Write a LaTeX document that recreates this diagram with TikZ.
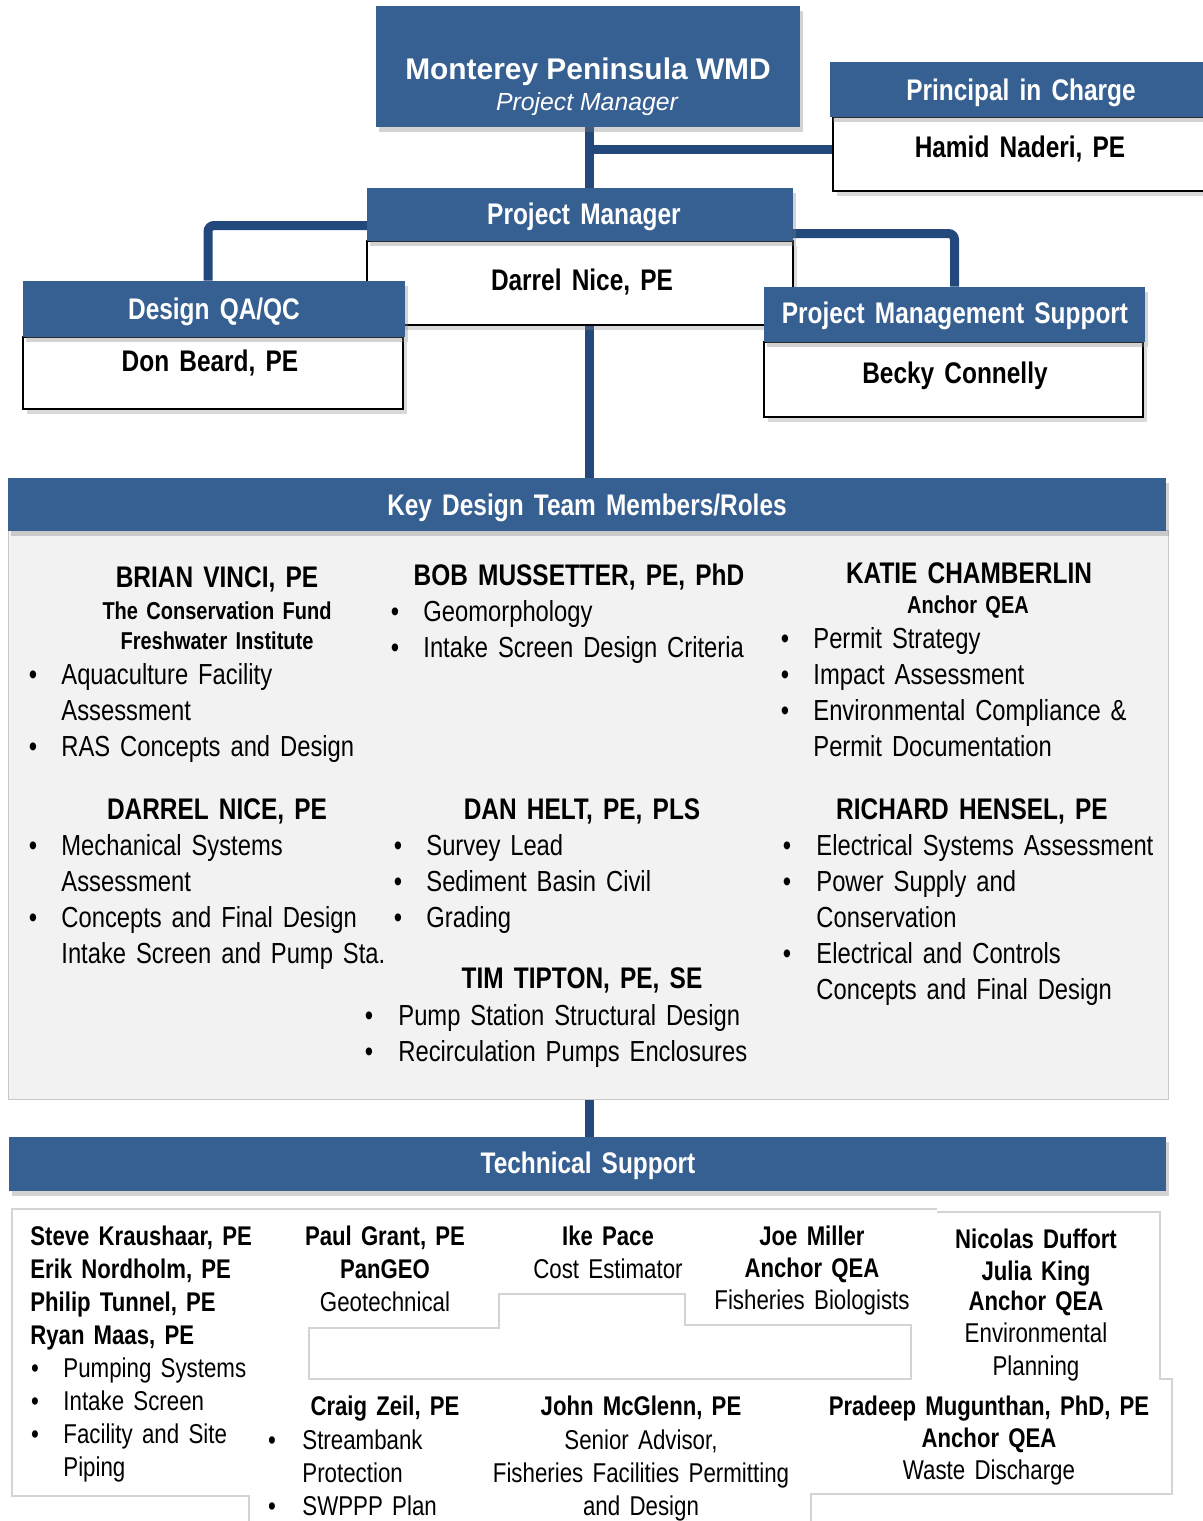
\documentclass[tikz,border=0pt]{standalone}
\usepackage{fontspec}
\setmainfont{Liberation Sans}
\newfontfamily\nb{Liberation Sans}[FakeStretch=0.82,WordSpace=0.8]
\newfontfamily\nr{Liberation Sans}[FakeStretch=0.82,WordSpace=1.5]
\usetikzlibrary{shadows,calc,fit}
\definecolor{hdrblue}{RGB}{55,96,146}
\definecolor{connblue}{RGB}{35,72,124}
\definecolor{panelfill}{RGB}{242,242,242}
\definecolor{panelline}{RGB}{200,200,200}
\definecolor{boxline}{RGB}{212,212,212}
\tikzset{
  hbox/.style={rectangle, fill=hdrblue, draw=none, inner sep=0pt,
    drop shadow={shadow xshift=1.5pt, shadow yshift=-2.5pt, opacity=0.35}},
  wbox/.style={rectangle, fill=white, draw=black, line width=1.2pt, inner sep=0pt,
    drop shadow={shadow xshift=2pt, shadow yshift=-2.5pt, opacity=0.3}},
  connline/.style={draw=connblue, line width=4.5pt},
  outl/.style={draw=boxline, line width=0.6pt},
  txt/.style={inner sep=0pt, anchor=base},
  ltxt/.style={inner sep=0pt, anchor=base west},
  hd/.style={txt, font=\nb\bfseries\fontsize{14.9}{18}\selectfont},
  nm/.style={txt, font=\nb\bfseries\fontsize{14.9}{18}\selectfont},
  org/.style={txt, font=\nb\bfseries\fontsize{12.2}{15}\selectfont},
  itm/.style={ltxt, font=\nr\fontsize{14.5}{17}\selectfont},
  bul/.style={txt, font=\nr\fontsize{14.5}{17}\selectfont},
  bn/.style={txt, font=\nb\bfseries\fontsize{13.5}{16}\selectfont},
  bnl/.style={ltxt, font=\nb\bfseries\fontsize{13.5}{16}\selectfont},
  br/.style={txt, font=\nr\fontsize{13.6}{16}\selectfont},
  bri/.style={ltxt, font=\nr\fontsize{13.6}{16}\selectfont},
  bbul/.style={txt, font=\nr\fontsize{13.6}{16}\selectfont},
}
\begin{document}
\begin{tikzpicture}[x=0.5pt,y=-0.5pt]
\useasboundingbox (0,0) rectangle (1203,1521);
\clip (0,0) rectangle (1203,1521);

% ---------- box frames (named, for connectors) ----------
\path (376,6) coordinate (mpA) (800,127) coordinate (mpB);
\path (367,188) coordinate (pmhA) (793,241) coordinate (pmhB);
\path (367,241) coordinate (pmbA) (793,325) coordinate (pmbB);
\path (830,62) coordinate (pchA) (1215,117) coordinate (pchB);
\path (833,117) coordinate (pcbA) (1215,191) coordinate (pcbB);
\path (23,281) coordinate (qahA) (405,337) coordinate (qahB);
\path (23,337) coordinate (qabA) (403,409) coordinate (qabB);
\path (764,287) coordinate (pmshA) (1145,342) coordinate (pmshB);
\path (764,342) coordinate (pmsbA) (1143,417) coordinate (pmsbB);

% invisible placeholders so connectors can be drawn first
\node[inner sep=0pt, fit=(mpA)(mpB)] (mp) {};
\node[inner sep=0pt, fit=(pmhA)(pmhB)] (pmh) {};
\node[inner sep=0pt, fit=(pmbA)(pmbB)] (pmb) {};
\node[inner sep=0pt, fit=(pcbA)(pcbB)] (pcb) {};
\node[inner sep=0pt, fit=(qahA)(qahB)] (qah) {};
\node[inner sep=0pt, fit=(pmshA)(pmshB)] (pmsh) {};
\path (8,478) coordinate (kdhA) (1166,531) coordinate (kdhB);
\path (8,530) coordinate (kdpA) (1168,1099) coordinate (kdpB);
\path (9,1137) coordinate (tshA) (1166,1191) coordinate (tshB);
\node[inner sep=0pt, fit=(kdhA)(kdhB)] (kdh) {};
\node[inner sep=0pt, fit=(kdpA)(kdpB)] (kdp) {};
\node[inner sep=0pt, fit=(tshA)(tshB)] (tsh) {};

% ---------- connectors ----------
\coordinate (cx) at ($(mp.south)+(1,0)$);
\coordinate (j1) at ($(cx)+(0,22)$);
\draw[connline] (cx) -- (cx |- pmh.north);
\draw[connline] (j1) -- ($(j1 -| pcb.west)+(3,0)$);
\draw[connline, rounded corners=3pt] ($(pmh.west)+(3,11)$) -| ($(qah.north)+(-6,0)$);
\draw[connline, rounded corners=3pt] ($(pmh.east)+(-3,19)$) -| (pmsh.north);
\draw[connline] (cx |- pmb.south) -- (cx |- kdh.north);
\draw[connline] (cx |- kdp.south) -- (cx |- tsh.north);

% ---------- boxes ----------
\node[hbox, fit=(mpA)(mpB)] (mpbox) {};
\node[wbox, line width=1.4pt, fit=(pcbA)(pcbB)] (pcbbox) {};
\node[hbox, fit=(pchA)(pchB)] (pchbox) {};
\node[wbox, line width=0.8pt, fit=(pmbA)(pmbB)] (pmbbox) {};
\node[hbox, fit=(pmhA)(pmhB)] (pmhbox) {};
\node[wbox, line width=1.4pt, fit=(qabA)(qabB)] (qabbox) {};
\node[hbox, fit=(qahA)(qahB)] (qahbox) {};
\node[wbox, line width=1.2pt, fit=(pmsbA)(pmsbB)] (pmsbbox) {};
\node[hbox, fit=(pmshA)(pmshB)] (pmshbox) {};
\node[rectangle, fill=panelfill, draw=panelline, line width=0.5pt, inner sep=0pt, fit=(kdpA)(kdpB)] (kdpbox) {};
\node[hbox, fit=(kdhA)(kdhB)] (kdhbox) {};
\node[hbox, fit=(tshA)(tshB)] (tshbox) {};

% bottom outline of technical support text boxes
\draw[outl] (249,1521) -- (249,1496) -- (12,1496) -- (12,1209) -- (937,1209);
\draw[outl] (937,1212) -- (1160,1212) -- (1160,1379) -- (1172,1379) -- (1172,1494) -- (811,1494) -- (811,1521);
\draw[outl] (309,1379) -- (309,1328) -- (499,1328) -- (499,1294) -- (685,1294) -- (685,1325) -- (911,1325) -- (911,1379) -- cycle;

% ---------- top texts ----------
\node[txt, text=white, font=\bfseries\fontsize{14.95}{18}\selectfont] (t1) at (588,79) {Monterey Peninsula WMD};
\node[txt, text=white, font=\itshape\fontsize{12.4}{15}\selectfont] (t2) at (587,110) {Project Manager};
\node[hd, text=white] (t3) at (1021,100) {Principal in Charge};
\node[hd] (t4) at (1020,157) {Hamid Naderi, PE};
\node[hd, text=white] (t5) at (584,224) {Project Manager};
\node[hd] (t6) at (582,290) {Darrel Nice, PE};
\node[hd, text=white] (t7) at (214,319) {Design QA/QC};
\node[hd] (t8) at (210,371) {Don Beard, PE};
\node[hd, text=white] (t9) at (955,323) {Project Management Support};
\node[hd] (t10) at (955,383) {Becky Connelly};
\node[hd, text=white] (t11) at (587,515) {Key Design Team Members/Roles};
\node[hd, text=white] (t12) at (588,1173) {Technical Support};

% ---------- key design team ----------
\node[nm] (a1) at (217,587) {BRIAN VINCI, PE};
\node[org] (a2) at (217,619) {The Conservation Fund};
\node[org] (a3) at (217,649) {Freshwater Institute};
\node[bul] (a4) at (33,684) {•};
\node[itm] (a5) at (61,684) {Aquaculture Facility};
\node[itm] (a6) at (61,720) {Assessment};
\node[bul] (a7) at (33,756) {•};
\node[itm] (a8) at (61,756) {RAS Concepts and Design};

\node[nm] (b1) at (579,585) {BOB MUSSETTER, PE, PhD};
\node[bul] (b2) at (395,621) {•};
\node[itm] (b3) at (423,621) {Geomorphology};
\node[bul] (b4) at (395,657) {•};
\node[itm] (b5) at (423,657) {Intake Screen Design Criteria};

\node[nm] (c1) at (969,583) {KATIE CHAMBERLIN};
\node[org] (c2) at (968,613) {Anchor QEA};
\node[bul] (c3) at (785,648) {•};
\node[itm] (c4) at (813,648) {Permit Strategy};
\node[bul] (c5) at (785,684) {•};
\node[itm] (c6) at (813,684) {Impact Assessment};
\node[bul] (c7) at (785,720) {•};
\node[itm] (c8) at (813,720) {Environmental Compliance \&};
\node[itm] (c9) at (813,756) {Permit Documentation};

\node[nm] (d1) at (217,819) {DARREL NICE, PE};
\node[bul] (d2) at (33,855) {•};
\node[itm] (d3) at (61,855) {Mechanical Systems};
\node[itm] (d4) at (61,891) {Assessment};
\node[bul] (d5) at (33,927) {•};
\node[itm] (d6) at (61,927) {Concepts and Final Design};
\node[itm] (d7) at (61,963) {Intake Screen and Pump Sta.};

\node[nm] (e1) at (582,819) {DAN HELT, PE, PLS};
\node[bul] (e2) at (398,855) {•};
\node[itm] (e3) at (426,855) {Survey Lead};
\node[bul] (e4) at (398,891) {•};
\node[itm] (e5) at (426,891) {Sediment Basin Civil};
\node[bul] (e6) at (398,927) {•};
\node[itm] (e7) at (426,927) {Grading};

\node[nm] (f1) at (582,988) {TIM TIPTON, PE, SE};
\node[bul] (f2) at (369,1025) {•};
\node[itm] (f3) at (398,1025) {Pump Station Structural Design};
\node[bul] (f4) at (369,1061) {•};
\node[itm] (f5) at (398,1061) {Recirculation Pumps Enclosures};

\node[nm] (g1) at (972,819) {RICHARD HENSEL, PE};
\node[bul] (g2) at (787,855) {•};
\node[itm] (g3) at (816,855) {Electrical Systems Assessment};
\node[bul] (g4) at (787,891) {•};
\node[itm] (g5) at (816,891) {Power Supply and};
\node[itm] (g6) at (816,927) {Conservation};
\node[bul] (g7) at (787,963) {•};
\node[itm] (g8) at (816,963) {Electrical and Controls};
\node[itm] (g9) at (816,999) {Concepts and Final Design};

% ---------- technical support ----------
\node[bnl] (h1) at (30,1245) {Steve Kraushaar, PE};
\node[bnl] (h2) at (30,1278) {Erik Nordholm, PE};
\node[bnl] (h3) at (30,1311) {Philip Tunnel, PE};
\node[bnl] (h4) at (30,1344) {Ryan Maas, PE};
\node[bbul] (h5) at (35,1377) {•};
\node[bri] (h6) at (63,1377) {Pumping Systems};
\node[bbul] (h7) at (35,1410) {•};
\node[bri] (h8) at (63,1410) {Intake Screen};
\node[bbul] (h9) at (35,1443) {•};
\node[bri] (h10) at (63,1443) {Facility and Site};
\node[bri] (h11) at (63,1476) {Piping};

\node[bn] (i1) at (385,1245) {Paul Grant, PE};
\node[bn] (i2) at (385,1278) {PanGEO};
\node[br] (i3) at (385,1311) {Geotechnical};

\node[bn] (k1) at (608,1245) {Ike Pace};
\node[br] (k2) at (608,1278) {Cost Estimator};

\node[bn] (l1) at (812,1245) {Joe Miller};
\node[bn] (l2) at (812,1277) {Anchor QEA};
\node[br] (l3) at (812,1309) {Fisheries Biologists};

\node[bn] (m1) at (1036,1248) {Nicolas Duffort};
\node[bn] (m2) at (1036,1280) {Julia King};
\node[bn] (m3) at (1036,1310) {Anchor QEA};
\node[br] (m4) at (1036,1342) {Environmental};
\node[br] (m5) at (1036,1375) {Planning};

\node[bn] (n1) at (385,1415) {Craig Zeil, PE};
\node[bbul] (n2) at (272,1449) {•};
\node[bri] (n3) at (302,1449) {Streambank};
\node[bri] (n4) at (302,1482) {Protection};
\node[bbul] (n5) at (272,1515) {•};
\node[bri] (n6) at (302,1515) {SWPPP Plan};

\node[bn] (o1) at (641,1415) {John McGlenn, PE};
\node[br] (o2) at (641,1449) {Senior Advisor,};
\node[br] (o3) at (641,1482) {Fisheries Facilities Permitting};
\node[br] (o4) at (641,1515) {and Design};

\node[bn] (p1) at (989,1415) {Pradeep Mugunthan, PhD, PE};
\node[bn] (p2) at (989,1447) {Anchor QEA};
\node[br] (p3) at (989,1479) {Waste Discharge};
\end{tikzpicture}
\end{document}
